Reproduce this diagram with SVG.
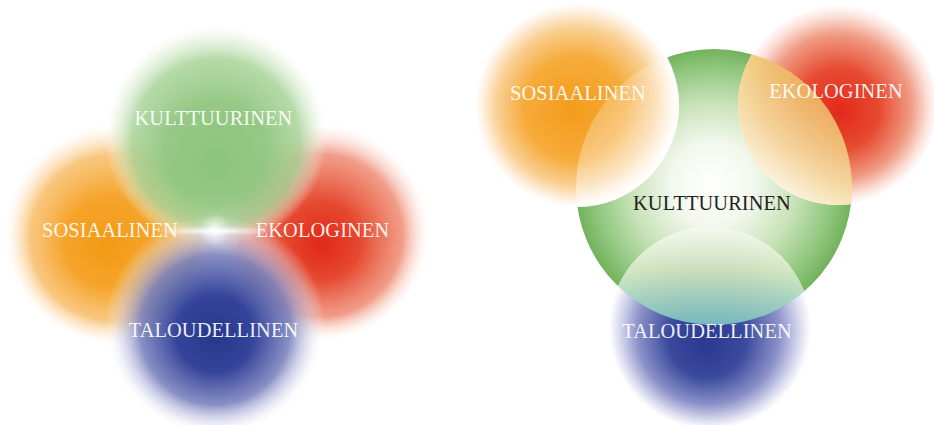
<svg xmlns="http://www.w3.org/2000/svg" width="934" height="425" viewBox="0 0 934 425">
<style>
.lbl{font-family:"Liberation Serif","Times New Roman",serif;font-size:20.4px;text-anchor:middle;letter-spacing:0.1px}
.w{fill:#ffffff;fill-opacity:0.93}
.d{fill:#1f1f1f}
</style>
<defs>
<radialGradient id="lGreen" gradientUnits="userSpaceOnUse" cx="216" cy="134" r="112" fx="216" fy="168">
<stop offset="0" stop-color="#8cc47a"/>
<stop offset="0.45" stop-color="#92c781" stop-opacity="0.97"/>
<stop offset="0.75" stop-color="#a6d296" stop-opacity="0.82"/>
<stop offset="0.9" stop-color="#d6eacc" stop-opacity="0.4"/>
<stop offset="1" stop-color="#ffffff" stop-opacity="0"/>
</radialGradient>
<radialGradient id="lOrange" gradientUnits="userSpaceOnUse" cx="115" cy="234" r="112" fx="106" fy="248">
<stop offset="0" stop-color="#f39a16"/>
<stop offset="0.4" stop-color="#f5a42a"/>
<stop offset="0.74" stop-color="#f8bd6a" stop-opacity="0.85"/>
<stop offset="0.9" stop-color="#fde2c2" stop-opacity="0.4"/>
<stop offset="1" stop-color="#ffffff" stop-opacity="0"/>
</radialGradient>
<radialGradient id="lRed" gradientUnits="userSpaceOnUse" cx="321" cy="232" r="110" fx="322" fy="246">
<stop offset="0" stop-color="#e12818"/>
<stop offset="0.35" stop-color="#e5492f"/>
<stop offset="0.74" stop-color="#ef8c74" stop-opacity="0.85"/>
<stop offset="0.9" stop-color="#fad6ca" stop-opacity="0.4"/>
<stop offset="1" stop-color="#ffffff" stop-opacity="0"/>
</radialGradient>
<radialGradient id="lBlue" gradientUnits="userSpaceOnUse" cx="215" cy="326" r="110" fx="215" fy="338">
<stop offset="0" stop-color="#27378b"/>
<stop offset="0.35" stop-color="#34449a"/>
<stop offset="0.68" stop-color="#7880bc" stop-opacity="0.88"/>
<stop offset="0.88" stop-color="#d0d2ea" stop-opacity="0.42"/>
<stop offset="1" stop-color="#ffffff" stop-opacity="0"/>
</radialGradient>
<radialGradient id="glow">
<stop offset="0" stop-color="#ffffff" stop-opacity="0.95"/>
<stop offset="0.5" stop-color="#ffffff" stop-opacity="0.4"/>
<stop offset="1" stop-color="#ffffff" stop-opacity="0"/>
</radialGradient>
<radialGradient id="rGreen" gradientUnits="userSpaceOnUse" cx="714" cy="187" r="138" fx="712" fy="182">
<stop offset="0" stop-color="#ffffff"/>
<stop offset="0.3" stop-color="#f3f8ee"/>
<stop offset="0.6" stop-color="#c8e2b8"/>
<stop offset="0.85" stop-color="#92c880"/>
<stop offset="1" stop-color="#72b25c"/>
</radialGradient>
<radialGradient id="rOrange" gradientUnits="userSpaceOnUse" cx="577" cy="105" r="102" fx="573" fy="112">
<stop offset="0" stop-color="#f39c1a"/>
<stop offset="0.5" stop-color="#f6ab3a"/>
<stop offset="0.77" stop-color="#f9cf92"/>
<stop offset="0.93" stop-color="#fef2e4"/>
<stop offset="1" stop-color="#ffffff"/>
</radialGradient>
<radialGradient id="rRed" gradientUnits="userSpaceOnUse" cx="838" cy="105" r="100" fx="840" fy="112">
<stop offset="0" stop-color="#e3291b"/>
<stop offset="0.4" stop-color="#e64a30"/>
<stop offset="0.72" stop-color="#f09a82"/>
<stop offset="0.9" stop-color="#fbe2da"/>
<stop offset="1" stop-color="#ffffff"/>
</radialGradient>
<radialGradient id="rBlue" gradientUnits="userSpaceOnUse" cx="710" cy="328" r="101" fx="705" fy="346">
<stop offset="0" stop-color="#2a3890"/>
<stop offset="0.38" stop-color="#3a4a9c"/>
<stop offset="0.7" stop-color="#8a90c8"/>
<stop offset="0.9" stop-color="#dcddef"/>
<stop offset="1" stop-color="#ffffff"/>
</radialGradient>
<linearGradient id="ovOrange" gradientUnits="userSpaceOnUse" x1="595" y1="110" x2="670" y2="195">
<stop offset="0" stop-color="#ffffff" stop-opacity="0.22"/>
<stop offset="0.5" stop-color="#ffffff" stop-opacity="0.45"/>
<stop offset="1" stop-color="#ffffff" stop-opacity="0.85"/>
</linearGradient>
<linearGradient id="ovRed" gradientUnits="userSpaceOnUse" x1="820" y1="100" x2="755" y2="190">
<stop offset="0" stop-color="#efc168" stop-opacity="0.85"/>
<stop offset="0.5" stop-color="#f5dba2" stop-opacity="0.9"/>
<stop offset="1" stop-color="#fdf9f0" stop-opacity="0.97"/>
</linearGradient>
<linearGradient id="ovBlue" gradientUnits="userSpaceOnUse" x1="0" y1="228" x2="0" y2="324">
<stop offset="0" stop-color="#f4f8ee" stop-opacity="0.95"/>
<stop offset="0.45" stop-color="#cfe5bb" stop-opacity="0.92"/>
<stop offset="1" stop-color="#80c6c2" stop-opacity="0.9"/>
</linearGradient>
<clipPath id="clipGreen"><circle cx="714" cy="187" r="138"/></clipPath>
</defs>

<g id="left-sosiaalinen"><circle cx="115" cy="234" r="112" fill="url(#lOrange)"/></g>
<g id="left-ekologinen"><circle cx="321" cy="232" r="110" fill="url(#lRed)"/></g>
<g id="left-kulttuurinen"><circle cx="216" cy="134" r="112" fill="url(#lGreen)"/></g>
<g id="left-taloudellinen"><circle cx="215" cy="326" r="110" fill="url(#lBlue)"/></g>
<g id="left-center-glow">
<ellipse cx="215" cy="231" rx="62" ry="5" fill="url(#glow)"/>
<circle cx="215" cy="230" r="16" fill="url(#glow)"/>
</g>
<g id="left-labels">
<text class="lbl w" x="213.5" y="125">KULTTUURINEN</text>
<text class="lbl w" x="110" y="237">SOSIAALINEN</text>
<text class="lbl w" x="322.5" y="237">EKOLOGINEN</text>
<text class="lbl w" x="213.5" y="337">TALOUDELLINEN</text>
</g>

<g id="right-kulttuurinen"><circle cx="714" cy="187" r="138" fill="url(#rGreen)"/></g>
<g id="right-sosiaalinen">
<circle cx="577" cy="105" r="102" fill="url(#rOrange)"/>
<g clip-path="url(#clipGreen)"><circle cx="577" cy="105" r="102" fill="url(#ovOrange)"/></g>
<text class="lbl w" x="578" y="100">SOSIAALINEN</text>
</g>
<g id="right-ekologinen">
<circle cx="838" cy="105" r="100" fill="url(#rRed)"/>
<g clip-path="url(#clipGreen)"><circle cx="838" cy="105" r="100" fill="url(#ovRed)"/></g>
<text class="lbl w" x="836" y="98">EKOLOGINEN</text>
</g>
<g id="right-taloudellinen">
<circle cx="710" cy="328" r="101" fill="url(#rBlue)"/>
<g clip-path="url(#clipGreen)"><circle cx="710" cy="328" r="101" fill="url(#ovBlue)"/></g>
<text class="lbl w" x="707" y="338">TALOUDELLINEN</text>
</g>
<g id="right-label"><text class="lbl d" x="712" y="210">KULTTUURINEN</text></g>
</svg>
